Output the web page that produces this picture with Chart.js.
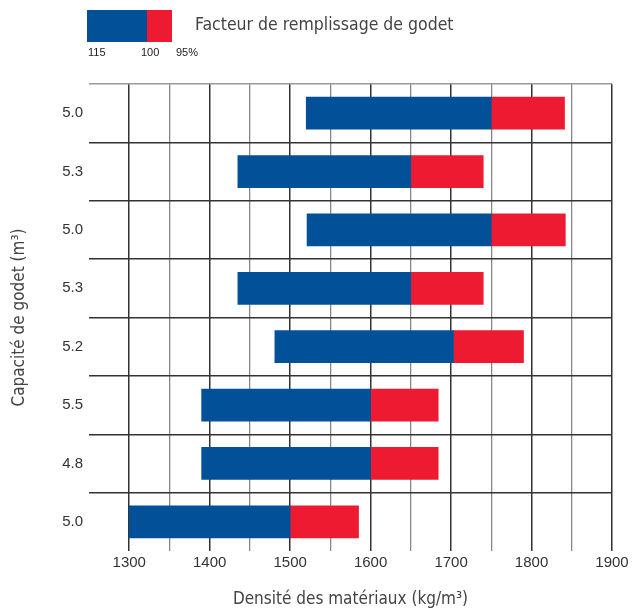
<!DOCTYPE html>
<html>
<head>
<meta charset="utf-8">
<script src="https://cdn.jsdelivr.net/npm/chart.js@4"></script>
<style>
  body { margin: 0; background: #fff; }
  #wrap { position: relative; width: 632px; height: 611px; }
  canvas { position: absolute; left: 0; top: 0; }
  .key { position: absolute; }
  .lbl { position: absolute; font-family: 'Liberation Sans', Arial, sans-serif; font-size: 11px; color: #222; }
  #keyTitle { position: absolute; left: 195px; top: 14px; font-family: 'Liberation Sans Narrow', 'DejaVu Sans Condensed', sans-serif; font-size: 17.5px; color: #444; white-space: nowrap; }
</style>
</head>
<body>
<div id="wrap">
  <canvas id="chart" width="632" height="611"></canvas>
  <div class="key" style="left:87px;top:10px;width:60px;height:32px;background:#025198"></div>
  <div class="key" style="left:147px;top:10px;width:25px;height:32px;background:#EE1A32"></div>
  <div id="keyTitle">Facteur de remplissage de godet</div>
  <div class="lbl" style="left:88px;top:46px">115</div>
  <div class="lbl" style="left:141px;top:46px">100</div>
  <div class="lbl" style="left:176px;top:46px">95%</div>
</div>
<script>
// Bucket capacity per row (top to bottom)
const capacities = ['5.0', '5.3', '5.0', '5.3', '5.2', '5.5', '4.8', '5.0'];
// Material density (kg/m3) at 115 %, 100 % and 95 % fill factor
const density115 = [1520, 1435, 1521, 1435, 1481, 1390, 1390, 1300];
const density100 = [1750, 1650, 1750, 1650, 1703, 1600, 1600, 1500];
const density95 = [1841, 1740, 1842, 1740, 1790, 1684, 1684, 1585];

const blue = '#025198';
const red = '#EE1A32';
const narrow = "'Liberation Sans Narrow', 'DejaVu Sans Condensed', sans-serif";
const regular = "'Liberation Sans', Arial, sans-serif";

const ctx = document.getElementById('chart').getContext('2d');
new Chart(ctx, {
    type: 'bar',
    data: {
        labels: capacities,
        datasets: [{
            label: '115-100 %',
            data: capacities.map((c, i) => [density115[i], density100[i]]),
            backgroundColor: blue,
            borderWidth: 0,
            grouped: false,
            barThickness: 32
        }, {
            label: '100-95 %',
            data: capacities.map((c, i) => [density100[i], density95[i]]),
            backgroundColor: red,
            borderWidth: 0,
            grouped: false,
            barThickness: 32
        }]
    },
    options: {
        indexAxis: 'y',
        responsive: false,
        animation: false,
        devicePixelRatio: 1,
        layout: { padding: { top: 84, right: 20, left: 0, bottom: 0 } },
        plugins: {
            legend: { display: false },
            tooltip: { enabled: false }
        },
        scales: {
            x: {
                type: 'linear',
                min: 1250,
                max: 1900,
                border: { display: false },
                grid: {
                    drawTicks: false,
                    color: c => c.tick && c.tick.value === 1250 ? 'rgba(0,0,0,0)'
                        : (c.tick && c.tick.value % 100 === 0 ? '#333' : '#888'),
                    lineWidth: c => c.tick && c.tick.value % 100 === 0 ? 1.5 : 1.3
                },
                ticks: {
                    stepSize: 50,
                    padding: 3,
                    color: '#333',
                    font: { family: regular, size: 15 },
                    callback: v => (v % 100 === 0 && v > 1250) ? v : ''
                },
                title: {
                    display: true,
                    text: 'Densité des matériaux (kg/m³)',
                    color: '#444',
                    font: { family: narrow, size: 17 },
                    padding: { top: 0, bottom: 1 }
                },
                afterFit: s => { s.height = 60; }
            },
            y: {
                border: { display: false },
                grid: {
                    offset: true,
                    drawTicks: false,
                    color: c => c.type !== 'tick' ? 'rgba(0,0,0,0)' : (c.index === 0 ? '#999' : '#333'),
                    lineWidth: 1.5
                },
                ticks: {
                    padding: 6,
                    color: '#333',
                    font: { family: regular, size: 15 }
                },
                title: {
                    display: true,
                    text: 'Capacité de godet (m³)',
                    color: '#444',
                    font: { family: narrow, size: 17 },
                    padding: { top: 9, bottom: 0 }
                },
                afterFit: s => { s.width = 89; }
            }
        }
    }
});
</script>
</body>
</html>
